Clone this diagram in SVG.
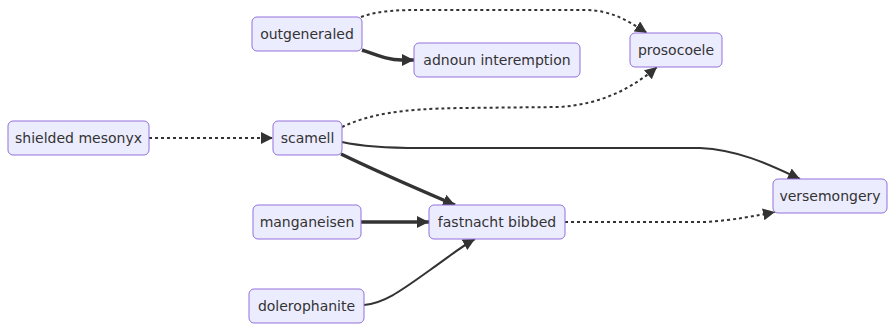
<svg xmlns="http://www.w3.org/2000/svg" width="895" height="331" viewBox="0 0 895 331">
  <style>
    .node rect { fill: #ECECFF; stroke: #9370DB; stroke-width: 1; }
    .node text { font-family: "DejaVu Sans", Verdana, sans-serif; font-size: 14px; fill: #333; text-anchor: middle; dominant-baseline: central; }
    .edge { fill: none; stroke: #333; stroke-width: 2; }
    .thick { stroke-width: 3.5; }
    .dotted { stroke-dasharray: 3 3; }
  </style>
  <defs>
    <marker id="arrow" viewBox="0 0 10 10" refX="10" refY="5" markerWidth="12" markerHeight="12" markerUnits="userSpaceOnUse" orient="auto">
      <path d="M0,0 L10,5 L0,10 z" fill="#333"/>
    </marker>
  </defs>

  <g id="connectors">
    <path class="edge dotted" d="M361,17 C380,10 400,10 425,10 L585,10 C612,10 630,22 647,33" marker-end="url(#arrow)"/>
    <path class="edge thick" d="M362,50 C382,57 390,60 402,60 L414,60" marker-end="url(#arrow)"/>
    <path class="edge dotted" d="M149,138 L273,138" marker-end="url(#arrow)"/>
    <path class="edge dotted" d="M342,127 C370,114 400,109 460,108 L560,107 C600,104 630,90 657,67" marker-end="url(#arrow)"/>
    <path class="edge" d="M342,142 C360,146 380,148 420,148 L700,148 C740,150 770,165 800,179" marker-end="url(#arrow)"/>
    <path class="edge thick" d="M341,154 C380,173 420,190 455,205" marker-end="url(#arrow)"/>
    <path class="edge thick" d="M361,222 L429,222" marker-end="url(#arrow)"/>
    <path class="edge" d="M364,305 C385,303 402,290 430,270 C450,256 462,246 475,239" marker-end="url(#arrow)"/>
    <path class="edge dotted" d="M565,222 L705,222 C735,220 755,216 775,212" marker-end="url(#arrow)"/>
  </g>

  <g id="outgeneraled" class="node">
    <rect x="252" y="17" width="110" height="34" rx="5"/>
    <text x="307" y="34">outgeneraled</text>
  </g>
  <g id="adnoun-interemption" class="node">
    <rect x="414" y="43" width="166" height="34" rx="5"/>
    <text x="497" y="60">adnoun interemption</text>
  </g>
  <g id="prosocoele" class="node">
    <rect x="630" y="33" width="92" height="34" rx="5"/>
    <text x="676" y="50">prosocoele</text>
  </g>
  <g id="shielded-mesonyx" class="node">
    <rect x="8" y="121" width="141" height="34" rx="5"/>
    <text x="78.5" y="138">shielded mesonyx</text>
  </g>
  <g id="scamell" class="node">
    <rect x="273" y="121" width="69" height="34" rx="5"/>
    <text x="307.5" y="138">scamell</text>
  </g>
  <g id="versemongery" class="node">
    <rect x="773" y="179" width="114" height="34" rx="5"/>
    <text x="830" y="196">versemongery</text>
  </g>
  <g id="manganeisen" class="node">
    <rect x="253" y="205" width="108" height="34" rx="5"/>
    <text x="307" y="222">manganeisen</text>
  </g>
  <g id="fastnacht-bibbed" class="node">
    <rect x="429" y="205" width="136" height="34" rx="5"/>
    <text x="497" y="222">fastnacht bibbed</text>
  </g>
  <g id="dolerophanite" class="node">
    <rect x="249" y="289" width="115" height="34" rx="5"/>
    <text x="306.5" y="306">dolerophanite</text>
  </g>
</svg>
